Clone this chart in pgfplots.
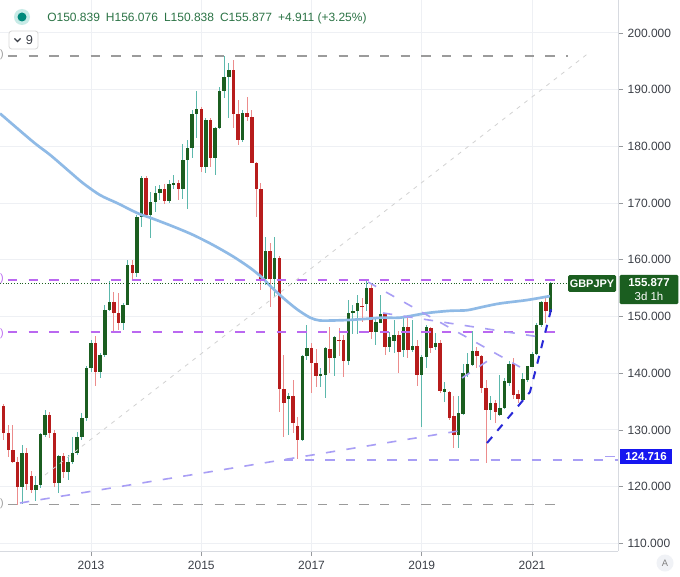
\documentclass[border=0pt]{standalone}
\usepackage{pgfplots}
\pgfplotsset{compat=1.18}
\usepackage{pgfplotstable}
\usepackage{fontspec}
\setmainfont{Liberation Sans}

\definecolor{upbody}{RGB}{27,94,32}
\definecolor{upwick}{RGB}{92,184,172}
\definecolor{dnbody}{RGB}{183,28,28}
\definecolor{dnwick}{RGB}{236,140,140}
\definecolor{macol}{RGB}{143,186,230}
\definecolor{purp}{RGB}{186,104,240}
\definecolor{lav}{RGB}{168,158,245}
\definecolor{dblue}{RGB}{40,40,215}
\definecolor{lblue}{RGB}{22,22,240}
\definecolor{greyd}{RGB}{155,155,155}
\definecolor{gridc}{RGB}{238,240,244}
\definecolor{sepc}{RGB}{215,218,224}
\definecolor{txt}{RGB}{60,64,72}
\definecolor{hdr}{RGB}{44,116,70}
\definecolor{haloc}{RGB}{200,235,231}
\definecolor{dotc}{RGB}{0,137,123}
\definecolor{btnc}{RGB}{240,242,246}

\pgfplotstableread{
i O H L C
-15 120.0 127.4 117.0 125.9
-12 119.4 121.8 117.4 120.2
-11 120.2 129.4 119.7 129.3
-10 129.1 133.5 128.8 132.6
-7 120.7 125.6 118.8 125.4
-5 122.5 125.6 121.2 124.4
-4 124.4 128.8 124.0 125.9
-3 125.9 129.7 125.6 128.8
-2 128.8 132.9 128.2 132.1
-1 132.1 141.2 131.5 140.9
0 140.9 145.9 140.3 145.4
2 140.3 143.5 139.1 143.2
3 143.2 152.1 142.9 151.2
4 151.2 156.2 150.9 152.6
7 148.8 152.4 147.6 152.1
8 152.1 160.0 152.0 159.0
10 157.6 167.9 157.0 167.6
11 167.6 174.7 165.8 174.4
13 167.9 172.0 163.8 170.2
14 170.2 173.0 168.5 171.8
15 171.8 173.2 170.5 172.4
17 170.3 174.0 170.0 173.3
18 173.3 175.0 172.4 173.6
20 172.4 180.5 170.8 177.6
21 177.6 181.1 169.0 179.7
22 179.7 186.5 178.0 185.7
23 185.7 189.7 181.4 186.6
25 176.4 185.0 175.3 184.7
27 177.9 183.5 174.9 183.3
28 183.3 190.5 183.0 189.7
29 189.7 195.9 188.5 192.3
30 192.3 194.7 185.0 193.5
33 181.1 186.4 180.8 185.9
38 156.7 164.1 155.5 161.6
40 156.7 164.0 153.5 160.3
43 135.4 136.5 129.1 136.0
46 128.2 143.2 128.0 143.1
47 143.1 148.5 142.3 144.4
50 139.5 140.9 137.6 139.9
51 139.7 144.7 135.6 144.4
53 142.6 146.5 139.5 146.4
56 142.2 152.9 141.5 150.6
57 150.6 152.0 147.0 151.0
58 150.9 153.8 147.0 152.3
60 152.2 156.2 151.0 155.0
62 147.3 150.0 145.0 149.1
63 148.9 153.8 148.9 150.4
65 144.7 147.3 143.8 146.3
66 145.7 149.4 143.5 146.7
68 144.1 149.7 142.9 148.2
70 144.1 149.4 143.7 144.8
72 139.7 143.2 130.6 142.8
73 142.8 148.5 140.9 148.2
75 144.7 147.1 144.1 145.3
77 136.7 138.4 135.0 137.2
80 129.1 135.9 126.8 133.0
81 132.8 141.7 132.7 140.0
82 139.9 143.5 139.4 141.7
83 141.5 147.4 141.2 144.0
87 133.5 135.9 131.8 134.7
89 132.7 139.7 132.4 133.8
90 133.8 139.1 133.7 138.7
91 138.2 142.1 137.7 141.7
94 135.2 140.0 135.0 139.0
95 138.8 141.3 138.5 141.2
96 141.1 143.8 141.1 143.4
97 143.4 148.8 143.2 148.5
98 148.5 152.7 148.2 152.5
100 150.839 156.076 150.838 155.877
}\uptab

\pgfplotstableread{
i O H L C
-19 134.2 134.6 128.2 129.4
-18 129.4 130.9 125.3 126.4
-17 126.4 130.9 124.1 124.4
-16 124.4 125.3 116.8 120.0
-14 125.9 126.8 119.4 120.5
-13 121.8 122.8 118.8 119.4
-9 132.6 133.2 128.5 129.5
-8 129.5 130.0 120.0 120.6
-6 125.4 125.9 121.5 122.5
1 145.4 146.5 137.8 140.3
5 152.6 154.3 147.2 150.7
6 150.7 154.1 147.6 148.8
9 159.0 160.0 156.5 157.6
12 174.4 174.7 167.3 167.9
16 172.4 173.3 169.8 170.3
19 173.6 174.0 170.5 172.4
24 186.6 187.0 175.5 176.4
26 184.7 185.0 176.4 177.9
31 193.5 195.2 183.2 185.8
32 185.8 188.2 180.2 181.1
34 185.9 188.8 184.4 185.1
35 185.1 186.4 177.0 177.1
36 177.1 177.3 167.6 172.4
37 172.4 173.5 154.7 156.7
39 161.6 163.0 151.7 156.7
41 160.3 160.6 133.2 137.3
42 137.3 143.2 128.8 134.7
44 136.0 138.8 129.4 131.3
45 130.7 132.3 124.8 128.2
48 144.4 145.3 136.5 141.8
49 141.8 144.2 137.6 139.5
52 144.2 148.1 140.0 142.6
54 145.9 148.0 143.0 145.7
55 145.9 146.7 139.4 142.2
59 151.9 153.2 149.0 151.7
61 155.0 155.6 146.0 147.3
64 150.4 150.5 143.2 144.7
67 146.8 147.4 140.0 143.8
69 148.2 149.7 142.7 144.1
71 144.8 145.9 137.7 139.7
74 147.9 148.2 143.5 144.4
76 145.4 145.9 136.5 136.8
78 136.6 136.8 131.8 132.1
79 132.4 136.0 126.8 129.1
84 144.0 144.6 140.9 143.0
85 143.0 143.2 136.5 137.4
86 137.4 138.8 124.1 133.5
88 134.8 135.3 131.2 133.1
92 141.7 142.7 135.4 136.2
93 136.3 137.1 134.7 135.4
99 152.5 153.5 148.8 150.9
}\dntab

\begin{document}
\begin{tikzpicture}
\useasboundingbox (0,0) rectangle (510pt,432pt);
\fill[white] (0,0) rectangle (510pt,432pt);
\begin{axis}[
  at={(0pt,432pt)}, anchor=north west,
  scale only axis, width=463.5pt, height=413.25pt,
  xmin=-19.81, xmax=114.72, ymin=108.64, ymax=205.82,
  axis x line*=bottom, axis y line*=right,
  axis line style={draw=sepc, line width=0.75pt, -},
  xtick={0,24,48,72,96}, xticklabels={2013,2015,2017,2019,2021},
  ytick={110,120,...,200},
  yticklabel={\pgfmathprintnumber[fixed,fixed zerofill,precision=3]{\tick}},
  /pgf/number format/assume math mode=true,
  /pgf/number format/1000 sep={},
  tick align=outside, major tick length=3.75pt,
  tick style={draw=sepc!70!black, line width=0.6pt},
  grid=major, major grid style={draw=gridc, line width=0.75pt},
  ticklabel style={font=\fontsize{9}{10}\selectfont, text=txt},
  yticklabel style={anchor=west},
  xticklabel style={anchor=north},
  candle/.style={draw=none, no markers, forget plot, error bars/y dir=both, error bars/y explicit, error bars/error mark=none},
]
% wicks
\addplot[candle, error bars/error bar style={line width=0.75pt, draw=upwick}]
  table[x=i, y expr={(\thisrow{H}+\thisrow{L})/2}, y error expr={(\thisrow{H}-\thisrow{L})/2}] {\uptab};
\addplot[candle, error bars/error bar style={line width=0.75pt, draw=dnwick}]
  table[x=i, y expr={(\thisrow{H}+\thisrow{L})/2}, y error expr={(\thisrow{H}-\thisrow{L})/2}] {\dntab};
% bodies
\addplot[candle, error bars/error bar style={line width=2.6pt, draw=upbody}]
  table[x=i, y expr={(\thisrow{O}+\thisrow{C})/2}, y error expr={max(abs(\thisrow{C}-\thisrow{O})/2,0.1)}] {\uptab};
\addplot[candle, error bars/error bar style={line width=2.6pt, draw=dnbody}]
  table[x=i, y expr={(\thisrow{O}+\thisrow{C})/2}, y error expr={max(abs(\thisrow{C}-\thisrow{O})/2,0.1)}] {\dntab};
% moving average
\addplot[smooth, draw=macol, line width=2pt] coordinates {
(-19.8,185.8) (-12.6,180.8) (-8.9,178.5) (-4.6,175.5) (-1.7,173.5) (2.0,171.4) (5.7,170.0)
(10.2,168.2) (13.3,167.3) (17.8,165.9) (22.2,164.4) (26.6,162.6) (30.9,160.6) (34.6,158.6)
(37.2,156.9) (39.0,155.4) (41.8,153.3) (44.8,151.3) (47.7,149.8) (49.8,149.3) (52.7,149.3)
(56.4,149.4) (60.1,149.6) (63.6,149.8) (67.3,149.8) (73.1,150.6) (78.1,151.0) (81.8,151.1)
(85.3,151.7) (89.0,152.3) (94.9,152.9) (99.9,153.6)};
% price dotted line
\addplot[draw=upbody, line width=0.7pt, dash pattern=on 0.7pt off 1.4pt] coordinates {(-19.81,155.877) (103.8,155.877)};
% horizontal levels
\addplot[draw=greyd, line width=1.4pt, dash pattern=on 7pt off 8.5pt] coordinates {(-18.07,195.88) (103.8,195.88)};
\addplot[draw=greyd, line width=1.4pt, dash pattern=on 7pt off 8.5pt] coordinates {(-18.07,116.84) (101.65,116.84)};
\addplot[draw=purp, line width=1.4pt, dash pattern=on 7pt off 8.5pt] coordinates {(-18.07,156.5) (101.65,156.5)};
\addplot[draw=purp, line width=1.4pt, dash pattern=on 7pt off 8.5pt] coordinates {(-18.07,147.2) (101.65,147.2)};
\addplot[draw=lav, line width=1.2pt, dash pattern=on 7pt off 8.5pt] coordinates {(42,124.716) (114.72,124.716)};
% trend lines
\addplot[draw=gray!35, line width=0.6pt, dash pattern=on 3pt off 4pt] coordinates {(-10.01,122.05) (108.62,196.65)};
\addplot[draw=lav, line width=1.2pt, dash pattern=on 7pt off 8.5pt] coordinates {(-15.45,117.11) (79.9,129.8)};
\addplot[draw=lav, line width=1.2pt, dash pattern=on 7pt off 8.5pt] coordinates {(60.3,156.08) (93.38,141.09)};
\addplot[draw=lav, line width=1.2pt, dash pattern=on 7pt off 8.5pt] coordinates {(63.56,150.62) (97.74,146.38)};
\addplot[draw=lav, line width=1.2pt, dash pattern=on 7pt off 8.5pt] coordinates {(80.76,139.15) (87.29,142.68)};
\addplot[draw=dblue, line width=1.5pt, dash pattern=on 6pt off 6pt] coordinates {(86.2,127.69) (95.56,136.68) (100.57,152.56)};
\end{axis}

\begin{scope}[x=0.75pt, y=-0.75pt, shift={(0pt,432pt)}]
% header
\fill[haloc] (22,17) circle (8);
\fill[dotc] (22,17) circle (4.5);
\node[anchor=west, inner sep=0pt, text=hdr, font=\fontsize{9}{11}\selectfont] at (47,18) {O150.839\hspace{4.5pt}H156.076\hspace{4.5pt}L150.838\hspace{4.5pt}C155.877\hspace{4.5pt}+4.911 (+3.25\%)};
\draw[rounded corners=2pt, draw=gray!30, fill=white, line width=0.6pt] (9,31) rectangle (38,49);
\draw[line width=0.8pt, txt] (14.5,38.5)--(17.5,41.5)--(20.5,38.5);
\node[inner sep=0pt, text=txt, font=\fontsize{9.6}{11}\selectfont] at (29.5,40) {9};
% left stubs
\node[inner sep=0pt, text=greyd, font=\fontsize{8}{9}\selectfont] at (2,55) {)};
\node[inner sep=0pt, text=purp, font=\fontsize{8}{9}\selectfont] at (2,279) {)};
\node[inner sep=0pt, text=purp, font=\fontsize{8}{9}\selectfont] at (2,334) {)};
\node[inner sep=0pt, text=greyd, font=\fontsize{8}{9}\selectfont] at (2,504) {)};
% right labels
\node[fill=upbody, text=white, font=\bfseries\fontsize{8.2}{9}\selectfont, minimum width=36pt, minimum height=12.5pt, inner sep=0pt, rounded corners=1pt] at (592,283.5) {GBPJPY};
\node[fill=upbody, text=white, align=center, font=\fontsize{8.6}{10.5}\selectfont, minimum width=44pt, minimum height=22pt, inner sep=0pt, rounded corners=1pt] at (649,289.5) {\textbf{155.877}\\3d 1h};
\draw[lav, line width=1pt] (605,456.5)--(615,456.5);
\node[fill=lblue, text=white, font=\bfseries\fontsize{8.6}{10}\selectfont, minimum width=39pt, minimum height=11pt, inner sep=0pt] at (646,456.5) {124.716};
% A button
\fill[btnc] (665,563) circle (8.5);
\node[inner sep=0pt, text=gray, font=\fontsize{7}{8}\selectfont] at (665,563) {A};
\end{scope}
\end{tikzpicture}
\end{document}
